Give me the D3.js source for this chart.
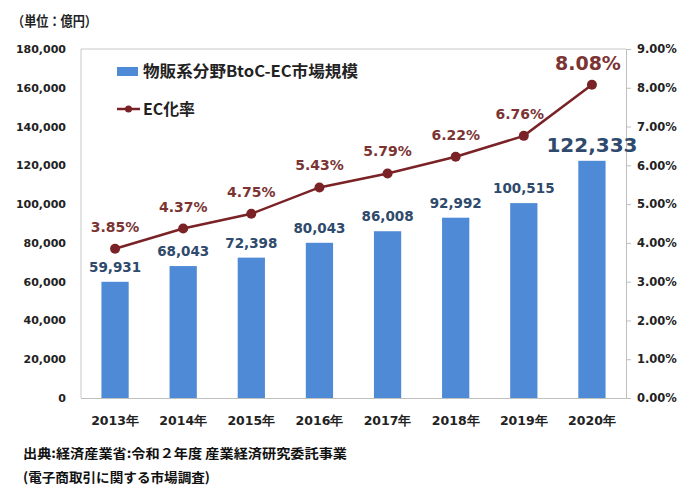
<!DOCTYPE html>
<html><head><meta charset="utf-8">
<script src="https://cdn.jsdelivr.net/npm/d3@7"></script>
<style>body{margin:0;background:#fff}</style>
</head><body>
<svg id="c" width="700" height="500"></svg>
<script>
const years = ["2013年","2014年","2015年","2016年","2017年","2018年","2019年","2020年"];
const marketSize = [59931, 68043, 72398, 80043, 86008, 92992, 100515, 122333];
const ecRate = [3.85, 4.37, 4.75, 5.43, 5.79, 6.22, 6.76, 8.08];
const leftTicks = [0, 20000, 40000, 60000, 80000, 100000, 120000, 140000, 160000, 180000];
const rightTicks = [0, 1, 2, 3, 4, 5, 6, 7, 8, 9];

const svg = d3.select("#c");
const L = 81, R = 626, T = 49, B = 398;
const x = d3.scaleBand().domain(years).range([L, R]).paddingInner(0.6).paddingOuter(0.3);
const yL = d3.scaleLinear().domain([0, 180000]).range([B, T]);
const yR = d3.scaleLinear().domain([0, 9]).range([B, T]);
const barColor = "#4f8ad6", lineColor = "#7a2226", lineLbl = "#7b3434", barLbl = "#2f4a6c";
const numFont = "'DejaVu Sans', Verdana, sans-serif";
const cjk = "'Noto Sans CJK JP', sans-serif";

// plot border
svg.append("path").attr("d", `M${L},${B}V${T}H${R}`).attr("fill","none").attr("stroke","#c8c8c8").attr("stroke-width",1);

// left axis
const gl = svg.append("g").attr("transform", `translate(${L},0)`)
  .call(d3.axisLeft(yL).tickValues(leftTicks).tickSize(0).tickPadding(15).tickFormat(d3.format(",")));
gl.select(".domain").remove();
gl.selectAll("text").attr("font-family", numFont).attr("font-weight","bold").attr("font-size", 11).attr("fill","#222");

// right axis
const gr = svg.append("g").attr("transform", `translate(${R},0)`)
  .call(d3.axisRight(yR).tickValues(rightTicks).tickSize(5).tickPadding(6).tickFormat(d => d3.format(".2f")(d) + "%"));
gr.select(".domain").attr("stroke","#bfbfbf");
gr.selectAll("line").attr("stroke","#bfbfbf");
gr.selectAll("text").attr("font-family", numFont).attr("font-weight","bold").attr("font-size", 11.5).attr("fill","#222");

// bars
svg.append("g").selectAll("rect").data(years).join("rect")
  .attr("x", d => x(d)).attr("width", x.bandwidth())
  .attr("y", (d,i) => yL(marketSize[i])).attr("height", (d,i) => B - yL(marketSize[i]))
  .attr("fill", barColor);

// bottom axis
const gb = svg.append("g").attr("transform", `translate(0,${B})`)
  .call(d3.axisBottom(x).tickSize(0).tickPadding(18));
gb.select(".domain").attr("stroke","#bfbfbf").attr("d", `M${L},0.5H${R}`);
gb.selectAll("text").attr("font-family", numFont).attr("font-weight","bold").attr("font-size", 12.5).attr("fill","#222");

// bar labels
svg.append("g").selectAll("text").data(years).join("text")
  .attr("x", d => x(d) + x.bandwidth()/2)
  .attr("y", (d,i) => yL(marketSize[i]) - (i === 7 ? 9 : 10))
  .attr("text-anchor","middle")
  .attr("font-family", numFont).attr("font-weight","bold")
  .attr("font-size", (d,i) => i === 7 ? 20 : 13.5)
  .attr("fill", barLbl)
  .text((d,i) => d3.format(",")(marketSize[i]));

// line
const cx = d => x(d) + x.bandwidth()/2;
svg.append("path").datum(years)
  .attr("d", d3.line().x(cx).y((d,i) => yR(ecRate[i])))
  .attr("fill","none").attr("stroke", lineColor).attr("stroke-width", 2.5);
svg.append("g").selectAll("circle").data(years).join("circle")
  .attr("cx", cx).attr("cy", (d,i) => yR(ecRate[i])).attr("r", 5).attr("fill", lineColor);

// line labels
svg.append("g").selectAll("text").data(years).join("text")
  .attr("x", (d,i) => cx(d) - (i === 6 ? 4 : 0) - (i===7?4:0))
  .attr("y", (d,i) => yR(ecRate[i]) - (i === 7 ? 15 : 17))
  .attr("text-anchor","middle")
  .attr("font-family", numFont).attr("font-weight","bold")
  .attr("font-size", (d,i) => i === 7 ? 19 : 14)
  .attr("fill", lineLbl)
  .text((d,i) => ecRate[i].toFixed(2) + "%");

// legend
const lg = svg.append("g");
lg.append("rect").attr("x",117).attr("y",67).attr("width",21).attr("height",9).attr("fill",barColor);
lg.append("text").attr("x",143).attr("y",77).attr("font-family",cjk).attr("font-weight","bold").attr("font-size",15.5).attr("fill","#222")
  .attr("textLength",215).attr("lengthAdjust","spacingAndGlyphs").text("物販系分野BtoC-EC市場規模");
lg.append("line").attr("x1",117).attr("x2",140).attr("y1",109).attr("y2",109).attr("stroke",lineColor).attr("stroke-width",2.5);
lg.append("circle").attr("cx",128.5).attr("cy",109).attr("r",3.5).attr("fill",lineColor);
lg.append("text").attr("x",143).attr("y",114.5).attr("font-family",cjk).attr("font-weight","bold").attr("font-size",15.5).attr("fill","#222")
  .attr("textLength",52).attr("lengthAdjust","spacingAndGlyphs").text("EC化率");

// unit
svg.append("text").attr("x",12).attr("y",26).attr("font-family",cjk).attr("font-weight","bold").attr("font-size",13.5).attr("fill","#222")
  .attr("textLength",85).attr("lengthAdjust","spacingAndGlyphs").text("（単位：億円）");

// source
svg.append("text").attr("x",23).attr("y",458).attr("font-family",cjk).attr("font-weight","bold").attr("font-size",13).attr("fill","#111")
  .attr("textLength",324).attr("lengthAdjust","spacingAndGlyphs").text("出典:経済産業省:令和２年度 産業経済研究委託事業");
svg.append("text").attr("x",23).attr("y",482).attr("font-family",cjk).attr("font-weight","bold").attr("font-size",13).attr("fill","#111")
  .attr("textLength",187).attr("lengthAdjust","spacingAndGlyphs").text("(電子商取引に関する市場調査)");
</script>
</body></html>
